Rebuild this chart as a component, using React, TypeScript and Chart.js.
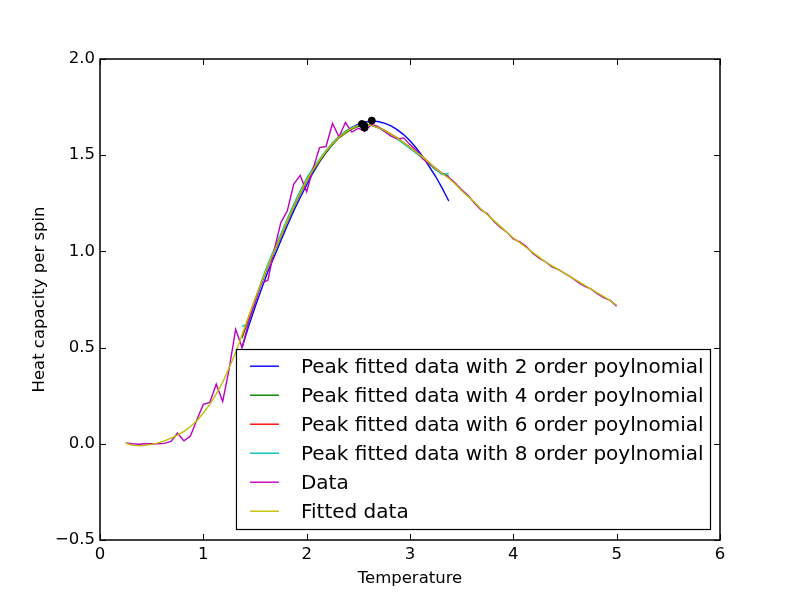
import { useEffect, useRef } from "react";
import { Chart, registerables } from "chart.js";

Chart.register(...registerables);

// Temperature grid of the simulation
const temperature = [
  0.25, 0.3125, 0.375, 0.4375, 0.5, 0.5625, 0.625, 0.6875, 0.75, 0.8125,
  0.875, 0.9375, 1.0, 1.0625, 1.125, 1.1875, 1.25, 1.3125, 1.375, 1.4375,
  1.5, 1.5625, 1.625, 1.6875, 1.75, 1.8125, 1.875, 1.9375, 2.0, 2.0625,
  2.125, 2.1875, 2.25, 2.3125, 2.375, 2.4375, 2.5, 2.5625, 2.625, 2.6875,
  2.75, 2.8125, 2.875, 2.9375, 3.0, 3.0625, 3.125, 3.1875, 3.25, 3.3125,
  3.375, 3.4375, 3.5, 3.5625, 3.625, 3.6875, 3.75, 3.8125, 3.875, 3.9375,
  4.0, 4.0625, 4.125, 4.1875, 4.25, 4.3125, 4.375, 4.4375, 4.5, 4.5625,
  4.625, 4.6875, 4.75, 4.8125, 4.875, 4.9375, 5.0,
];

// Measured heat capacity per spin
const heatCapacity = [
  0.005, 0.0, -0.002, 0.0, 0.0, 0.0, 0.002, 0.012, 0.055, 0.015,
  0.04, 0.125, 0.205, 0.215, 0.31, 0.22, 0.39, 0.595, 0.5, 0.63,
  0.73, 0.835, 0.85, 1.01, 1.15, 1.21, 1.35, 1.395, 1.31, 1.43,
  1.54, 1.545, 1.665, 1.595, 1.67, 1.62, 1.64, 1.625, 1.66, 1.65,
  1.625, 1.6, 1.585, 1.59, 1.555, 1.525, 1.48, 1.455, 1.43, 1.405,
  1.385, 1.355, 1.32, 1.29, 1.25, 1.215, 1.195, 1.155, 1.125, 1.1,
  1.065, 1.05, 1.025, 0.99, 0.965, 0.945, 0.92, 0.905, 0.885, 0.865,
  0.84, 0.82, 0.805, 0.78, 0.76, 0.745, 0.715,
];

// Smooth fit over the full temperature range
const fittedHeatCapacity = [
  0.003, -0.007, -0.01, -0.008, -0.003, 0.005, 0.015, 0.03, 0.045, 0.065,
  0.09, 0.12, 0.16, 0.205, 0.26, 0.32, 0.395, 0.475, 0.565, 0.66,
  0.75, 0.84, 0.925, 1.005, 1.08, 1.16, 1.235, 1.305, 1.37, 1.425,
  1.475, 1.52, 1.56, 1.595, 1.62, 1.64, 1.655, 1.66, 1.655, 1.645,
  1.63, 1.61, 1.59, 1.565, 1.54, 1.515, 1.49, 1.46, 1.43, 1.405,
  1.38, 1.35, 1.315, 1.285, 1.255, 1.22, 1.19, 1.16, 1.13, 1.1,
  1.07, 1.045, 1.02, 0.995, 0.97, 0.945, 0.925, 0.905, 0.885, 0.865,
  0.845, 0.825, 0.805, 0.785, 0.765, 0.745, 0.72,
];

// Peak window (T = 1.375 .. 3.375) used for the polynomial fits
const peakTemperature = temperature.slice(18, 51);

const peakFit2 = [
  0.5, 0.61, 0.71, 0.805, 0.895, 0.975, 1.055, 1.135, 1.21, 1.28,
  1.345, 1.41, 1.465, 1.513, 1.556, 1.592, 1.622, 1.645, 1.662, 1.672,
  1.677, 1.675, 1.667, 1.654, 1.633, 1.607, 1.575, 1.536, 1.491, 1.44,
  1.388, 1.328, 1.262,
];
const peakFit4 = [
  0.55, 0.65, 0.745, 0.835, 0.92, 1.0, 1.075, 1.155, 1.23, 1.3,
  1.365, 1.42, 1.47, 1.515, 1.555, 1.59, 1.615, 1.635, 1.65, 1.655,
  1.655, 1.645, 1.63, 1.61, 1.59, 1.565, 1.54, 1.51, 1.485, 1.455,
  1.425, 1.405, 1.39,
];
const peakFit6 = [
  0.56, 0.655, 0.75, 0.84, 0.925, 1.005, 1.08, 1.16, 1.235, 1.305,
  1.37, 1.425, 1.475, 1.52, 1.56, 1.595, 1.62, 1.64, 1.655, 1.66,
  1.655, 1.645, 1.63, 1.61, 1.59, 1.565, 1.54, 1.515, 1.49, 1.46,
  1.43, 1.405, 1.385,
];
const peakFit8 = [
  0.61, 0.625, 0.74, 0.845, 0.935, 1.015, 1.09, 1.17, 1.245, 1.315,
  1.38, 1.435, 1.48, 1.525, 1.565, 1.6, 1.625, 1.645, 1.655, 1.66,
  1.655, 1.645, 1.625, 1.605, 1.585, 1.56, 1.535, 1.51, 1.485, 1.455,
  1.425, 1.4, 1.405,
];

// Maxima located by each peak fit
const peakMaxT = [2.535, 2.555, 2.56, 2.63];
const peakMaxC = [1.662, 1.657, 1.643, 1.68];

const seriesLabels = [
  "Peak fitted data with 2 order poylnomial",
  "Peak fitted data with 4 order poylnomial",
  "Peak fitted data with 6 order poylnomial",
  "Peak fitted data with 8 order poylnomial",
  "Data",
  "Fitted data",
];
const seriesColors = ["#0000ff", "#008000", "#ff0000", "#00bfbf", "#bf00bf", "#bfbf00"];

const xTicks = [0, 1, 2, 3, 4, 5, 6];
const yTicks = [-0.5, 0, 0.5, 1.0, 1.5, 2.0];

const FONT = "'DejaVu Sans', 'Liberation Sans', sans-serif";

const pts = (xs: number[], ys: number[]) => xs.map((x, i) => ({ x, y: ys[i] }));

// Inward tick marks on all four sides plus the axes frame
const framePlugin = {
  id: "frameTicks",
  afterDraw(chart: any) {
    const { ctx, chartArea } = chart;
    const { left, right, top, bottom } = chartArea;
    const xs = chart.scales.x;
    const ys = chart.scales.y;
    const len = 6;
    ctx.save();
    ctx.strokeStyle = "#000";
    ctx.lineWidth = 1;
    ctx.beginPath();
    xTicks.forEach((v) => {
      const px = Math.round(xs.getPixelForValue(v)) + 0.5;
      ctx.moveTo(px, bottom);
      ctx.lineTo(px, bottom - len);
      ctx.moveTo(px, top);
      ctx.lineTo(px, top + len);
    });
    yTicks.forEach((v) => {
      const py = Math.round(ys.getPixelForValue(v)) + 0.5;
      ctx.moveTo(left, py);
      ctx.lineTo(left + len, py);
      ctx.moveTo(right, py);
      ctx.lineTo(right - len, py);
    });
    ctx.stroke();
    ctx.lineWidth = 1.5;
    ctx.strokeRect(left, top, right - left, bottom - top);
    ctx.restore();
  },
};

// Boxed legend anchored to the lower-right corner of the plot area
const boxLegendPlugin = {
  id: "boxLegend",
  afterDatasetsDraw(chart: any) {
    const { ctx, chartArea } = chart;
    const entries = chart.data.datasets.filter((d: any) => d.label);
    ctx.save();
    ctx.font = `20px ${FONT}`;
    const textW = Math.max(...entries.map((d: any) => ctx.measureText(d.label).width));
    const rowH = 29;
    const textX = 64.5;
    const w = textX + textW + 7;
    const h = 180;
    const right = chartArea.right - 9.5;
    const bottom = chartArea.bottom - 10.5;
    const x0 = right - w;
    const y0 = bottom - h;
    ctx.fillStyle = "#fff";
    ctx.fillRect(x0, y0, w, h);
    ctx.strokeStyle = "#000";
    ctx.lineWidth = 1.2;
    ctx.strokeRect(x0, y0, w, h);
    entries.forEach((d: any, i: number) => {
      const cy = y0 + 16.7 + i * rowH;
      ctx.strokeStyle = d.borderColor;
      ctx.lineWidth = 1.4;
      ctx.beginPath();
      ctx.moveTo(x0 + 13.5, cy);
      ctx.lineTo(x0 + 42.5, cy);
      ctx.stroke();
      ctx.fillStyle = "#000";
      ctx.textBaseline = "alphabetic";
      ctx.textAlign = "left";
      ctx.fillText(d.label, x0 + textX, cy + 7);
    });
    ctx.restore();
  },
};

export default function App() {
  const canvasRef = useRef<HTMLCanvasElement | null>(null);

  useEffect(() => {
    const canvas = canvasRef.current;
    if (!canvas) return;

    const fitSeries = [peakFit2, peakFit4, peakFit6, peakFit8];
    const lineBase = {
      borderWidth: 1.4,
      pointRadius: 0,
      fill: false,
      tension: 0,
    };

    const datasets: any[] = [
      ...fitSeries.map((ys, i) => ({
        ...lineBase,
        label: seriesLabels[i],
        data: pts(peakTemperature, ys),
        borderColor: seriesColors[i],
        backgroundColor: seriesColors[i],
        order: 6 - i,
      })),
      {
        ...lineBase,
        label: seriesLabels[4],
        data: pts(temperature, heatCapacity),
        borderColor: seriesColors[4],
        backgroundColor: seriesColors[4],
        order: 2,
      },
      {
        ...lineBase,
        label: seriesLabels[5],
        data: pts(temperature, fittedHeatCapacity),
        borderColor: seriesColors[5],
        backgroundColor: seriesColors[5],
        order: 1,
      },
      {
        label: "",
        data: pts(peakMaxT, peakMaxC),
        showLine: false,
        pointRadius: 3.5,
        pointBackgroundColor: "#000",
        pointBorderColor: "#000",
        borderColor: "#000",
        order: 0,
      },
    ];

    const tickFont = { family: FONT, size: 16.5 };

    const chart = new Chart(canvas, {
      type: "line",
      data: { datasets },
      options: {
        animation: false,
        responsive: true,
        maintainAspectRatio: false,
        layout: { padding: { top: 59, right: 80, left: 0, bottom: 0 } },
        plugins: {
          legend: { display: false },
          tooltip: { enabled: false },
        },
        scales: {
          x: {
            type: "linear",
            min: 0,
            max: 6,
            afterFit: (s: any) => {
              s.height = 60;
            },
            afterBuildTicks: (s: any) => {
              s.ticks = xTicks.map((v) => ({ value: v }));
            },
            ticks: {
              padding: 5,
              color: "#000",
              font: tickFont,
              maxRotation: 0,
              callback: (v: any) => String(v),
            },
            grid: { display: false, drawTicks: false },
            border: { display: false },
            title: {
              display: true,
              text: "Temperature",
              color: "#000",
              font: tickFont,
              padding: { top: 0, bottom: 11 },
            },
          },
          y: {
            type: "linear",
            min: -0.5,
            max: 2,
            afterFit: (s: any) => {
              s.width = 100;
            },
            afterBuildTicks: (s: any) => {
              s.ticks = yTicks.map((v) => ({ value: v }));
            },
            ticks: {
              padding: 5,
              color: "#000",
              font: tickFont,
              callback: (v: any) => Number(v).toFixed(1).replace("-", "\u2212"),
            },
            grid: { display: false, drawTicks: false },
            border: { display: false },
            title: {
              display: true,
              text: "Heat capacity per spin",
              color: "#000",
              font: tickFont,
              padding: { top: 30, bottom: 0 },
            },
          },
        },
      },
      plugins: [boxLegendPlugin, framePlugin],
    });

    return () => chart.destroy();
  }, []);

  return (
    <div style={{ position: "absolute", left: 0, top: 0, width: 800, height: 600, background: "#fff" }}>
      <canvas ref={canvasRef} />
    </div>
  );
}
